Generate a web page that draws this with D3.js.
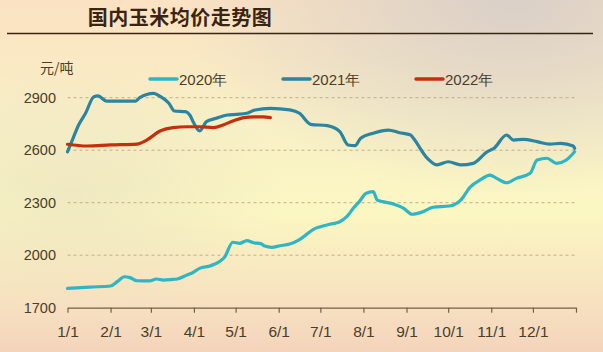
<!DOCTYPE html>
<html><head><meta charset="utf-8">
<script src="https://cdn.jsdelivr.net/npm/d3@7"></script>
<style>html,body{margin:0;padding:0;overflow:hidden;background:#fbefc8}</style>
</head><body>
<svg id="c" width="603" height="352"></svg>
<script>
const title = "国内玉米均价走势图";
const unitLabel = "元/吨";
const seriesNames = ["2020年", "2021年", "2022年"];
const seriesColors = ["#2fb6c4", "#2b84a0", "#c4300c"];
const yTicks = [1700, 2000, 2300, 2600, 2900];
const xTickLabels = ["1/1","2/1","3/1","4/1","5/1","6/1","7/1","8/1","9/1","10/1","11/1","12/1"];

const dates2020 = ["01-01","01-17","02-01","02-06","02-11","02-15","02-20","02-29","03-05","03-10","03-17","03-20","03-27","03-31","04-05","04-13","04-20","04-23","04-29","05-04","05-09","05-14","05-19","05-22","05-27","06-02","06-09","06-15","06-19","06-26","07-01","07-08","07-15","07-20","07-25","07-29","08-03","08-08","08-11","08-15","08-23","08-30","09-05","09-13","09-20","10-02","10-10","10-17","10-24","10-31","11-05","11-12","11-19","11-29","12-04","12-11","12-18","12-25","12-31"];
const values2020 = [1810,1818,1824,1850,1877,1872,1854,1853,1864,1858,1862,1864,1887,1900,1925,1940,1967,1988,2074,2068,2083,2071,2066,2052,2045,2054,2064,2085,2106,2148,2163,2177,2191,2220,2271,2306,2354,2363,2315,2306,2291,2268,2234,2249,2274,2281,2315,2391,2430,2458,2439,2414,2439,2468,2544,2554,2525,2544,2591];

const dates2021 = ["01-01","01-05","01-09","01-14","01-20","01-23","01-29","02-08","02-19","02-22","03-03","03-08","03-14","03-18","03-26","03-29","04-01","04-05","04-10","04-17","04-25","05-02","05-09","05-15","05-26","06-09","06-16","06-24","07-06","07-15","07-21","07-26","07-30","08-08","08-19","08-27","09-04","09-06","09-16","09-23","10-01","10-10","10-19","10-29","11-03","11-12","11-17","11-24","12-04","12-13","12-21","12-30","12-31"];
const values2021 = [2591,2668,2744,2811,2906,2910,2881,2881,2881,2900,2925,2906,2868,2824,2820,2801,2754,2710,2763,2782,2801,2805,2811,2830,2839,2830,2811,2748,2740,2706,2630,2626,2668,2697,2715,2700,2687,2668,2554,2516,2534,2516,2525,2591,2611,2687,2658,2662,2649,2635,2639,2624,2611];

const dates2022 = ["01-01","01-15","02-01","02-20","02-27","03-08","03-17","03-27","04-05","04-15","04-22","04-29","05-07","05-14","05-21","05-26"];
const values2022 = [2634,2624,2630,2635,2658,2711,2729,2734,2734,2729,2744,2767,2786,2791,2791,2786];

const svg = d3.select("#c");
const W = 603, H = 352;
const defs = svg.append("defs");
const lg = defs.append("linearGradient").attr("id","bgv").attr("x1",0).attr("y1",0).attr("x2",0).attr("y2",1);
[[0,"#fbe2c2"],[0.35,"#f8f0c6"],[0.6,"#fbf7c2"],[0.85,"#f7e2c0"],[1,"#f4d4bc"]].forEach(s=>lg.append("stop").attr("offset",s[0]).attr("stop-color",s[1]));
const rg = defs.append("radialGradient").attr("id","bgr").attr("cx",0.85).attr("cy",0.0).attr("r",0.55);
rg.append("stop").attr("offset",0).attr("stop-color","#d8cfc8").attr("stop-opacity",0.95);
rg.append("stop").attr("offset",1).attr("stop-color","#d8cfc8").attr("stop-opacity",0);
const rg2 = defs.append("radialGradient").attr("id","bgr2").attr("cx",0.12).attr("cy",0.55).attr("r",0.35);
rg2.append("stop").attr("offset",0).attr("stop-color","#e4dcc0").attr("stop-opacity",0.5);
rg2.append("stop").attr("offset",1).attr("stop-color","#e4dcc0").attr("stop-opacity",0);
svg.append("rect").attr("width",W).attr("height",H).attr("fill","url(#bgv)");
svg.append("rect").attr("width",W).attr("height",H).attr("fill","url(#bgr)");
svg.append("rect").attr("width",W).attr("height",H).attr("fill","url(#bgr2)");

// title
svg.append("text").attr("x",180).attr("y",25).attr("text-anchor","middle")
  .attr("font-family","'Noto Sans CJK SC'").attr("font-weight",700).attr("font-size",20)
  .attr("letter-spacing",0.5).attr("fill","#3a2412").text(title);
svg.append("line").attr("x1",7).attr("x2",593).attr("y1",33.5).attr("y2",33.5)
  .attr("stroke","#3a2412").attr("stroke-width",1.5);

const parse = d3.timeParse("%Y-%m-%d");
const x = d3.scaleTime().domain([parse("2020-01-01"), parse("2021-01-01")]).range([67.5, 576]);
const y = d3.scaleLinear().domain([1700, 2900]).range([307.7, 97.7]);
const font = "'Liberation Sans Narrow','Liberation Sans',sans-serif";
const txtCol = "#4a3e28";

// grid
svg.append("g").selectAll("line").data(yTicks.filter(v=>v>1700)).join("line")
  .attr("x1",67.5).attr("x2",576).attr("y1",d=>y(d)).attr("y2",d=>y(d))
  .attr("stroke","#c2ad8a").attr("stroke-width",1).attr("stroke-dasharray","3,3");

// y labels
svg.append("g").selectAll("text").data(yTicks).join("text")
  .attr("x",56).attr("y",d=>y(d)+5).attr("text-anchor","end")
  .attr("font-family",font).attr("font-size",14.5).attr("fill",txtCol).text(d=>d);

svg.append("text").attr("x",40).attr("y",73).attr("font-family","'Noto Sans CJK SC'")
  .attr("font-size",14).attr("fill",txtCol).text(unitLabel);

// x axis
const tickDates = xTickLabels.map((l,i)=>parse("2020-"+String(i+1).padStart(2,"0")+"-01"));
const xAxis = d3.axisBottom(x).tickValues(tickDates.concat([parse("2021-01-01")]))
  .tickSize(5).tickSizeOuter(0).tickFormat((d,i)=>xTickLabels[i] || "");
const gx = svg.append("g").attr("transform","translate(0,307.7)").call(xAxis);
gx.select(".domain").attr("stroke","#6e604c").attr("stroke-width",1.2);
gx.selectAll(".tick line").attr("stroke","#6e604c").attr("stroke-width",1.2);
gx.selectAll(".tick text").attr("font-family",font).attr("font-size",15.5).attr("fill",txtCol).attr("dy","1.35em");

// lines
const line = d3.line().x(d=>x(d[0])).y(d=>y(d[1])).curve(d3.curveMonotoneX);
const mk = (ds, vs) => ds.map((d,i)=>[parse("2020-"+d), vs[i]]);
const series = [mk(dates2020, values2020), mk(dates2021, values2021), mk(dates2022, values2022)];
series.forEach((s,i)=>{
  svg.append("path").datum(s).attr("d",line).attr("fill","none")
    .attr("stroke",seriesColors[i]).attr("stroke-width",3.2)
    .attr("stroke-linejoin","round").attr("stroke-linecap","round");
});

// legend
const legX = [150, 283, 416];
seriesNames.forEach((n,i)=>{
  svg.append("line").attr("x1",legX[i]).attr("x2",legX[i]+27).attr("y1",79).attr("y2",79)
    .attr("stroke",seriesColors[i]).attr("stroke-width",3.5).attr("stroke-linecap","round");
  svg.append("text").attr("x",legX[i]+29).attr("y",84.5).attr("font-family",font)
    .attr("font-size",15).attr("fill",txtCol).text(n);
});
</script>
</body></html>
